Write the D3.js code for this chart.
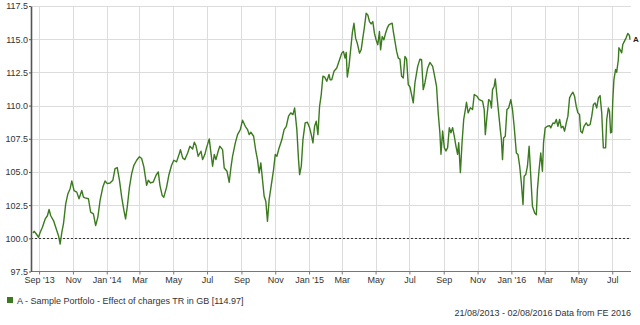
<!DOCTYPE html>
<html>
<head>
<meta charset="utf-8">
<script src="https://cdn.jsdelivr.net/npm/d3@7"></script>
<style>
  body { margin: 0; background: #fff; }
  svg { display: block; font-family: Arial, "Liberation Sans", sans-serif; }
</style>
</head>
<body>
<div id="chart"></div>
<script>
// Data
var dates = [
  "2013-08-21","2013-08-23","2013-08-26","2013-08-31",
  "2013-09-03","2013-09-07","2013-09-12","2013-09-16","2013-09-19","2013-09-22","2013-09-27",
  "2013-10-02","2013-10-06","2013-10-09","2013-10-12","2013-10-15","2013-10-19","2013-10-23","2013-10-27","2013-10-30",
  "2013-11-03","2013-11-08","2013-11-12","2013-11-17","2013-11-20","2013-11-23","2013-11-29",
  "2013-12-03","2013-12-08","2013-12-12","2013-12-16","2013-12-20","2013-12-25","2013-12-29",
  "2014-01-02","2014-01-07","2014-01-12","2014-01-16","2014-01-20","2014-01-24","2014-01-28",
  "2014-02-01","2014-02-04","2014-02-07","2014-02-11","2014-02-15","2014-02-19","2014-02-24",
  "2014-03-01","2014-03-05","2014-03-09","2014-03-14","2014-03-17","2014-03-21","2014-03-26","2014-03-31",
  "2014-04-04","2014-04-07","2014-04-11","2014-04-14","2014-04-19","2014-04-23","2014-04-28",
  "2014-05-02","2014-05-07","2014-05-12","2014-05-14","2014-05-18","2014-05-22","2014-05-27","2014-05-31",
  "2014-06-05","2014-06-08","2014-06-11","2014-06-15","2014-06-20","2014-06-23","2014-06-27","2014-06-30",
  "2014-07-05","2014-07-08","2014-07-11","2014-07-14","2014-07-17","2014-07-21","2014-07-24","2014-07-29",
  "2014-08-01","2014-08-06","2014-08-10","2014-08-13","2014-08-16","2014-08-21","2014-08-25","2014-08-30",
  "2014-09-03","2014-09-08","2014-09-12","2014-09-15","2014-09-18","2014-09-23","2014-09-27","2014-09-30",
  "2014-10-03","2014-10-06","2014-10-09","2014-10-12","2014-10-15","2014-10-18","2014-10-21","2014-10-25","2014-10-29",
  "2014-11-01","2014-11-04","2014-11-08","2014-11-13","2014-11-17","2014-11-21","2014-11-25","2014-11-29",
  "2014-12-03","2014-12-06","2014-12-10","2014-12-13","2014-12-15","2014-12-18","2014-12-21","2014-12-25","2014-12-29",
  "2015-01-02","2015-01-05","2015-01-08","2015-01-11","2015-01-14","2015-01-17","2015-01-20","2015-01-23","2015-01-26","2015-01-29",
  "2015-02-02","2015-02-06","2015-02-08","2015-02-11","2015-02-15","2015-02-20","2015-02-25",
  "2015-03-01","2015-03-04","2015-03-07","2015-03-09","2015-03-11","2015-03-14","2015-03-17","2015-03-20","2015-03-23","2015-03-26","2015-03-29",
  "2015-04-02","2015-04-05","2015-04-08","2015-04-11","2015-04-14","2015-04-17","2015-04-20","2015-04-23","2015-04-26","2015-04-29",
  "2015-05-02","2015-05-05","2015-05-08","2015-05-10","2015-05-13","2015-05-16","2015-05-19","2015-05-22","2015-05-25","2015-05-28","2015-05-31",
  "2015-06-02","2015-06-05","2015-06-08","2015-06-11","2015-06-14","2015-06-17","2015-06-20","2015-06-23","2015-06-26","2015-06-29",
  "2015-07-02","2015-07-05","2015-07-08","2015-07-11","2015-07-16","2015-07-20","2015-07-23","2015-07-26","2015-07-29",
  "2015-08-03","2015-08-07","2015-08-12","2015-08-15","2015-08-19","2015-08-22","2015-08-25","2015-08-27","2015-08-30",
  "2015-09-02","2015-09-05","2015-09-08","2015-09-11","2015-09-14","2015-09-17","2015-09-20","2015-09-23","2015-09-26","2015-09-28",
  "2015-10-01","2015-10-04","2015-10-07","2015-10-10","2015-10-12","2015-10-15","2015-10-19","2015-10-23","2015-10-26","2015-10-31",
  "2015-11-04","2015-11-10","2015-11-13","2015-11-15","2015-11-18","2015-11-21","2015-11-24","2015-11-26","2015-11-28",
  "2015-12-01","2015-12-03","2015-12-06","2015-12-09","2015-12-12","2015-12-14","2015-12-16","2015-12-18","2015-12-21","2015-12-24","2015-12-27","2015-12-31",
  "2016-01-03","2016-01-06","2016-01-10","2016-01-13","2016-01-16","2016-01-19","2016-01-22","2016-01-24","2016-01-27","2016-01-30",
  "2016-02-02","2016-02-05","2016-02-08","2016-02-12","2016-02-15","2016-02-17","2016-02-20","2016-02-23","2016-02-26","2016-02-28",
  "2016-03-02","2016-03-06","2016-03-10","2016-03-12","2016-03-16","2016-03-19","2016-03-22","2016-03-25","2016-03-28","2016-03-31",
  "2016-04-03","2016-04-06","2016-04-09","2016-04-12","2016-04-15","2016-04-18","2016-04-21","2016-04-24","2016-04-27","2016-04-30",
  "2016-05-03","2016-05-05","2016-05-08","2016-05-11","2016-05-15","2016-05-18","2016-05-22","2016-05-25","2016-05-28","2016-05-31",
  "2016-06-03","2016-06-06","2016-06-09","2016-06-12","2016-06-14","2016-06-15","2016-06-19","2016-06-21","2016-06-24","2016-06-26","2016-06-28","2016-06-30",
  "2016-07-02","2016-07-04","2016-07-07","2016-07-09","2016-07-12","2016-07-13","2016-07-15","2016-07-18","2016-07-20","2016-07-23","2016-07-26","2016-07-29",
  "2016-08-01","2016-08-02"
];

var values = [
  100.4,100.53,100.38,100.08,
  100.45,100.83,101.46,101.7,102.17,101.7,101.34,
  100.7,100.2,99.57,100.45,101.1,102.6,103.36,103.74,104.32,
  103.6,103.48,102.98,103.6,103.1,103.05,102.98,
  101.97,101.84,100.96,101.6,102.85,103.86,104.32,
  104.12,104.17,104.37,105.25,105.33,104.37,103.1,
  102.1,101.46,102.35,103.86,104.87,105.5,105.88,
  106.14,106.01,105.38,103.99,104.37,104.17,104.24,104.75,
  105.0,103.99,103.23,103.1,103.86,104.75,105.5,
  105.88,105.76,106.39,106.68,106.06,105.93,106.43,106.93,
  106.73,107.24,106.99,106.18,106.56,105.93,106.31,106.81,
  107.49,106.43,105.43,106.31,105.93,106.56,106.93,106.68,
  105.3,105.05,104.22,105.3,106.18,107.19,107.81,108.19,
  108.9,108.44,108.19,107.81,107.99,107.69,106.56,105.93,
  104.92,105.68,104.42,103.17,102.79,101.28,102.91,104.05,105.18,
  106.31,106.18,106.81,107.44,108.19,108.44,109.2,109.45,
  109.32,109.82,108.19,105.93,104.8,105.43,107.44,108.69,108.74,
  108.32,107.81,107.19,108.44,108.82,107.81,109.95,110.83,112.21,112.16,
  111.83,112.34,111.95,111.95,112.58,112.83,113.45,
  113.95,114.08,113.58,114.0,112.15,112.95,114.2,115.45,116.2,115.08,114.7,
  113.95,114.2,115.08,115.95,116.95,116.83,116.33,116.15,116.33,115.45,
  114.95,114.58,115.58,114.2,115.2,114.95,115.45,115.83,116.08,116.15,116.2,
  115.58,114.83,114.08,113.58,113.5,112.2,112.08,113.7,113.5,111.58,
  111.4,110.83,110.2,111.7,112.95,113.5,113.45,111.2,111.7,
  112.83,113.25,112.95,112.33,111.45,109.45,107.95,106.33,108.08,
  106.83,106.58,106.83,108.33,107.95,108.33,107.7,106.95,106.33,107.2,
  104.95,107.2,108.95,109.7,110.25,109.45,109.83,109.7,110.83,110.7,
  110.45,110.33,109.7,107.81,109.2,110.45,110.33,109.82,111.2,
  111.46,112.01,110.7,109.45,108.19,107.44,105.93,107.56,107.69,109.7,109.82,110.45,
  109.7,108.44,106.43,106.31,105.43,104.17,102.54,104.67,104.8,105.43,
  106.93,104.67,102.41,101.91,101.78,103.67,105.18,106.43,105.05,107.19,
  108.32,108.44,108.49,108.32,108.69,108.64,108.95,108.44,108.95,108.32,
  108.44,108.07,108.69,109.2,110.58,110.83,111.01,110.7,109.95,109.45,
  109.32,108.07,107.94,108.44,108.69,108.49,108.57,109.2,110.08,110.2,
  109.82,110.58,110.75,109.45,107.56,106.81,106.81,108.95,109.82,109.57,107.94,107.99,
  110.45,111.96,112.72,112.51,113.47,114.35,114.22,113.97,114.6,114.85,115.1,115.43,
  115.28,114.97
];

var yTicks = [97.5, 100, 102.5, 105, 107.5, 110, 112.5, 115, 117.5];
var xTickDates = ["2013-09-01","2013-11-01","2014-01-01","2014-03-01","2014-05-01","2014-07-01",
  "2014-09-01","2014-11-01","2015-01-01","2015-03-01","2015-05-01","2015-07-01",
  "2015-09-01","2015-11-01","2016-01-01","2016-03-01","2016-05-01","2016-07-01"];
var xTickLabels = ["Sep '13","Nov","Jan '14","Mar","May","Jul","Sep","Nov","Jan '15",
  "Mar","May","Jul","Sep","Nov","Jan '16","Mar","May","Jul"];
var dateRange = ["2013-08-21", "2016-08-02"];
var baseValue = 100;
var seriesLabel = "A";
var legendText = "A - Sample Portfolo - Effect of charges TR in GB [114.97]";
var footText = "21/08/2013 - 02/08/2016 Data from FE 2016";

// Layout
var WIDTH = 640, HEIGHT = 325;
var PLOT = { left: 31, right: 631, top: 6, bottom: 271.5 };
var LINE_COLOR = "#3b7a1f";

var parse = d3.timeParse("%Y-%m-%d");
var series = dates.map(function(d, i) { return { date: parse(d), value: values[i] }; });

var x = d3.scaleTime()
  .domain(dateRange.map(parse))
  .range([33, 630]);
var y = d3.scaleLinear()
  .domain([97.5, 117.5])
  .range([PLOT.bottom, PLOT.top]);

var svg = d3.select("#chart").append("svg")
  .attr("width", WIDTH)
  .attr("height", HEIGHT)
  .style("background", "#fff");

// grid
var grid = svg.append("g").attr("class", "grid")
  .attr("stroke", "#dcdcdc").attr("stroke-width", 1).attr("shape-rendering", "crispEdges");
grid.selectAll("line.h")
  .data(yTicks.slice(1))
  .enter().append("line")
  .attr("class", "h")
  .attr("x1", PLOT.left).attr("x2", PLOT.right)
  .attr("y1", function(d) { return Math.round(y(d)) + 0.5; })
  .attr("y2", function(d) { return Math.round(y(d)) + 0.5; });
grid.selectAll("line.v")
  .data(xTickDates.map(parse))
  .enter().append("line")
  .attr("class", "v")
  .attr("y1", PLOT.top).attr("y2", PLOT.bottom)
  .attr("x1", function(d) { return Math.round(x(d)) + 0.5; })
  .attr("x2", function(d) { return Math.round(x(d)) + 0.5; });

// dotted base line at 100
svg.append("line")
  .attr("x1", PLOT.left).attr("x2", PLOT.right)
  .attr("y1", Math.round(y(baseValue)) + 0.5).attr("y2", Math.round(y(baseValue)) + 0.5)
  .attr("stroke", "#333").attr("stroke-width", 1)
  .attr("stroke-dasharray", "2,2");

// x axis
var xAxis = d3.axisBottom(x)
  .tickValues(xTickDates.map(parse))
  .tickFormat(function(d, i) { return xTickLabels[i]; })
  .tickSize(3).tickSizeOuter(0).tickPadding(2);
var gx = svg.append("g")
  .attr("transform", "translate(0," + PLOT.bottom + ")")
  .call(xAxis);
gx.select(".domain").remove();
gx.append("line")
  .attr("x1", PLOT.left).attr("x2", PLOT.right)
  .attr("stroke", "#777").attr("stroke-width", 1);
gx.selectAll(".tick line").attr("stroke", "#777");
gx.selectAll("text").attr("fill", "#333").style("font-size", "9px");

// y axis
var yAxis = d3.axisLeft(y)
  .tickValues(yTicks)
  .tickFormat(d3.format(".1f"))
  .tickSize(2).tickSizeOuter(0).tickPadding(1);
var gy = svg.append("g")
  .attr("transform", "translate(" + PLOT.left + ",0)")
  .call(yAxis);
gy.select(".domain").attr("stroke", "#555").attr("stroke-width", 1.6);
gy.selectAll(".tick line").attr("stroke", "#555");
gy.selectAll("text").attr("fill", "#333").style("font-size", "9px");

// series line
var line = d3.line()
  .x(function(d) { return x(d.date); })
  .y(function(d) { return y(d.value); });
svg.append("path")
  .datum(series)
  .attr("fill", "none")
  .attr("stroke", LINE_COLOR)
  .attr("stroke-width", 1.4)
  .attr("stroke-linejoin", "round")
  .attr("d", line);

// end label
var last = series[series.length - 1];
svg.append("text")
  .attr("x", x(last.date) + 3)
  .attr("y", y(last.value))
  .attr("dy", "0.35em")
  .attr("fill", "#222")
  .style("font-size", "8px")
  .style("font-weight", "bold")
  .text(seriesLabel);

// legend
svg.append("rect")
  .attr("x", 7).attr("y", 297)
  .attr("width", 6).attr("height", 6)
  .attr("fill", LINE_COLOR);
svg.append("text")
  .attr("x", 17).attr("y", 303.5)
  .attr("fill", "#333")
  .style("font-size", "9px")
  .text(legendText);

// footer
svg.append("text")
  .attr("x", 631).attr("y", 316)
  .attr("text-anchor", "end")
  .attr("fill", "#333")
  .style("font-size", "9px")
  .text(footText);
</script>
</body>
</html>
